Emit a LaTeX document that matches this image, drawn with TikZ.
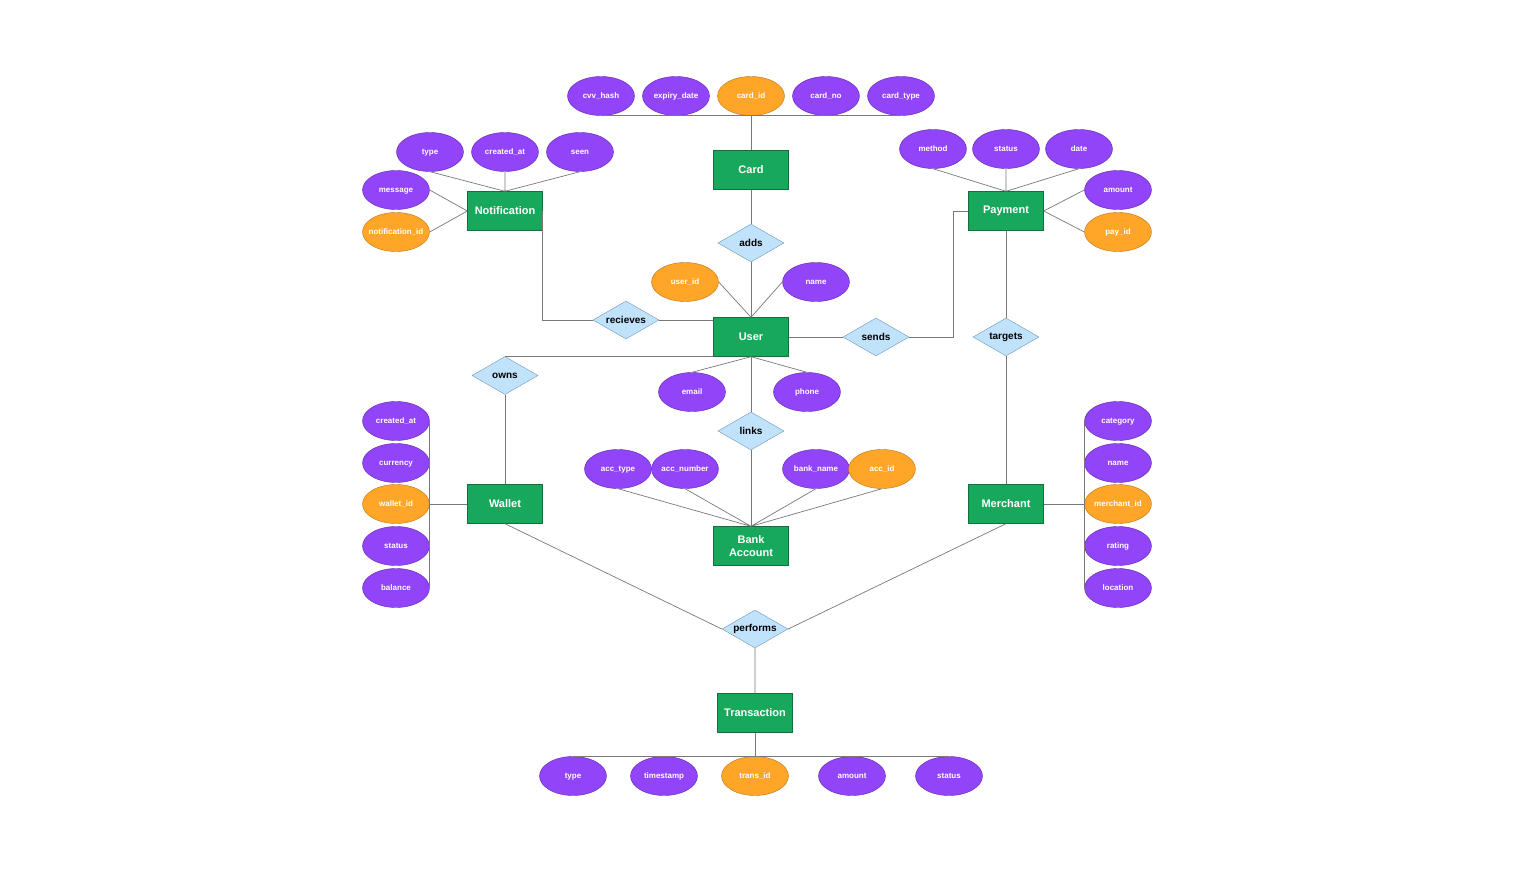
\documentclass[tikz,border=0pt]{standalone}
\usepackage{fontspec}
\setmainfont{Liberation Sans}
\usetikzlibrary{shapes.geometric}
\definecolor{entfill}{RGB}{23,168,92}
\definecolor{entline}{RGB}{20,110,62}
\definecolor{relfill}{RGB}{192,226,250}
\definecolor{relline}{RGB}{110,150,190}
\definecolor{attfill}{RGB}{145,68,248}
\definecolor{attline}{RGB}{95,40,170}
\definecolor{pkfill}{RGB}{255,166,40}
\definecolor{pkline}{RGB}{185,115,25}
\definecolor{conngray}{RGB}{120,120,120}
\begin{document}
\begin{tikzpicture}[x=1pt,y=-1pt,
  ent/.style={draw=entline,fill=entfill,text=white,align=center,
    font=\fontsize{11}{12.5}\selectfont\bfseries,
    minimum width=75pt,minimum height=39pt,inner sep=1pt},
  rel/.style={diamond,draw=relline,fill=relfill,aspect=1.74,
    font=\fontsize{10}{11}\selectfont\bfseries,
    minimum width=66pt,minimum height=38pt,inner sep=0pt},
  att/.style={ellipse,draw=attline,fill=attfill,text=white,
    font=\fontsize{8}{9}\selectfont\bfseries,
    text height=5.8pt,text depth=0.6pt,
    minimum width=67pt,minimum height=39pt,inner ysep=0pt,inner xsep=-10pt},
  pk/.style={att,draw=pkline,fill=pkfill},
  conn/.style={draw=conngray,line width=0.7pt}]
\useasboundingbox (0,0) rectangle (1516,872);
% entities
\node[ent] (card)  at (751,170) {Card};
\node[ent] (notif) at (505,211) {Notification};
\node[ent] (pay)   at (1006,211) {Payment};
\node[ent] (user)  at (751,337) {User};
\node[ent] (wallet) at (505,504) {Wallet};
\node[ent] (merch) at (1006,504) {Merchant};
\node[ent] (bank)  at (751,546) {Bank\\Account};
\node[ent] (trans) at (755,713) {Transaction};
% relations
\node[rel] (adds)  at (751,243) {adds};
\node[rel] (recv)  at (626,320) {recieves};
\node[rel] (sends) at (876,337) {sends};
\node[rel] (targ)  at (1006,337) {targets};
\node[rel] (owns)  at (505,375.5) {owns};
\node[rel] (links) at (751,431) {links};
\node[rel] (perf)  at (755,629) {performs};
% card
\node[att] (cvv)   at (601,96) {cvv\_hash};
\node[att] (cexp)  at (676,96) {expiry\_date};
\node[pk]  (cid)   at (751,96) {card\_id};
\node[att] (cno)   at (826,96) {card\_no};
\node[att] (ctype) at (901,96) {card\_type};
\draw[conn] (cvv.south) -- (ctype.south) (cid.south) -- (card.north);
% notification
\node[att] (ntype) at (430,152) {type};
\node[att] (ncre)  at (505,152) {created\_at};
\node[att] (nseen) at (580,152) {seen};
\node[att] (nmsg)  at (396,190) {message};
\node[pk]  (nid)   at (396,232) {notification\_id};
\draw[conn] (ntype.south) -- (notif.north) (ncre.south) -- (notif.north)
      (nseen.south) -- (notif.north)
      (nmsg.east) -- (notif.west) (nid.east) -- (notif.west);
% payment
\node[att] (pmeth) at (933,149) {method};
\node[att] (pstat) at (1006,149) {status};
\node[att] (pdate) at (1079,149) {date};
\node[att] (pamt)  at (1118,190) {amount};
\node[pk]  (pid)   at (1118,232) {pay\_id};
\draw[conn] (pmeth.south) -- (pay.north) (pstat.south) -- (pay.north)
      (pdate.south) -- (pay.north)
      (pamt.west) -- (pay.east) (pid.west) -- (pay.east);
% user
\node[pk]  (uid)   at (685,282) {user\_id};
\node[att] (uname) at (816,282) {name};
\node[att] (umail) at (692,392) {email};
\node[att] (uphone) at (807,392) {phone};
\draw[conn] (uid.east) -- (user.north) (uname.west) -- (user.north)
      (umail.north) -- (user.south) (uphone.north) -- (user.south);
% wallet
\node[att] (wcre)  at (396,421) {created\_at};
\node[att] (wcur)  at (396,463) {currency};
\node[pk]  (wid)   at (396,504) {wallet\_id};
\node[att] (wstat) at (396,546) {status};
\node[att] (wbal)  at (396,588) {balance};
\draw[conn] (wcre.east) -- (wbal.east) (wid.east) -- (wallet.west);
% merchant
\node[att] (mcat)  at (1118,421) {category};
\node[att] (mname) at (1118,463) {name};
\node[pk]  (mid)   at (1118,504) {merchant\_id};
\node[att] (mrate) at (1118,546) {rating};
\node[att] (mloc)  at (1118,588) {location};
\draw[conn] (mcat.west) -- (mloc.west) (merch.east) -- (mid.west);
% bank account
\node[att] (btype) at (618,469) {acc\_type};
\node[att] (bnum)  at (685,469) {acc\_number};
\node[att] (bname) at (816,469) {bank\_name};
\node[pk]  (bid)   at (882,469) {acc\_id};
\draw[conn] (btype.south) -- (bank.north) (bnum.south) -- (bank.north)
      (bname.south) -- (bank.north) (bid.south) -- (bank.north);
% transaction
\node[att] (ttype) at (573,776) {type};
\node[att] (ttime) at (664,776) {timestamp};
\node[pk]  (tid)   at (755,776) {trans\_id};
\node[att] (tamt)  at (852,776) {amount};
\node[att] (tstat) at (949,776) {status};
\draw[conn] (ttype.north) -- (tstat.north) (trans.south) -- (tid.north);
% relationships
\draw[conn] (card.south) -- (adds.north) (adds.south) -- (user.north);
\draw[conn] (notif.east) |- (recv.west) (recv.east) -- (recv.east -| user.west);
\draw[conn] (user.east) -- (sends.west) (sends.east) -- ++(44,0) |- (pay.west);
\draw[conn] (pay.south) -- (targ.north) (targ.south) -- (merch.north);
\draw[conn] (owns.north) |- (user.south west) (owns.south) -- (wallet.north);
\draw[conn] (user.south) -- (links.north) (links.south) -- (bank.north);
\draw[conn] (wallet.south) -- (perf.west) (merch.south) -- (perf.east)
      (perf.south) -- (trans.north);
\end{tikzpicture}
\end{document}
